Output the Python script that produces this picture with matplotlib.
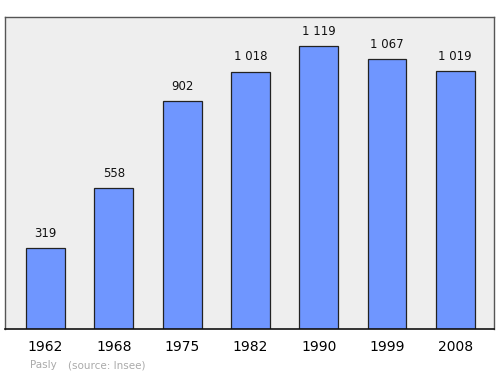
import numpy as np
import matplotlib.pyplot as plt

years = ["1962", "1968", "1975", "1982", "1990", "1999", "2008"]
population = [319, 558, 902, 1018, 1119, 1067, 1019]
value_labels = ["319", "558", "902", "1 018", "1 119", "1 067", "1 019"]

fig = plt.figure(figsize=(5, 3.74), dpi=100)
ax = fig.add_axes([0.01, 0.1203, 0.978, 0.8342])
ax.set_facecolor("#eeeeee")

x = np.arange(len(years))
ax.bar(x, population, width=0.57, color="#6f96ff", edgecolor="#222222", linewidth=0.9, zorder=2)

for xi, val, lab in zip(x, population, value_labels):
    ax.annotate(lab, (xi, val), xytext=(0, 6), textcoords="offset points",
                ha="center", va="bottom", fontsize=8.5, color="#111111")

ax.set_xlim(-0.593, 6.567)
ax.set_ylim(0, 1234)
ax.set_yticks([])
ax.set_xticks(x)
ax.set_xticklabels(years, fontsize=10)
ax.tick_params(axis="x", length=0, pad=8)
for side in ["left", "top", "right"]:
    ax.spines[side].set_color("#555555")
    ax.spines[side].set_linewidth(1.0)
ax.spines["bottom"].set_color("#111111")
ax.spines["bottom"].set_linewidth(1.2)

fig.text(30 / 500, 1 - 365 / 374, "Pasly", fontsize=7.5, color="#aaaaaa", va="center")
fig.text(68 / 500, 1 - 365 / 374, "(source: Insee)", fontsize=7.5, color="#aaaaaa", va="center")

fig.savefig("out.png", dpi=100)
